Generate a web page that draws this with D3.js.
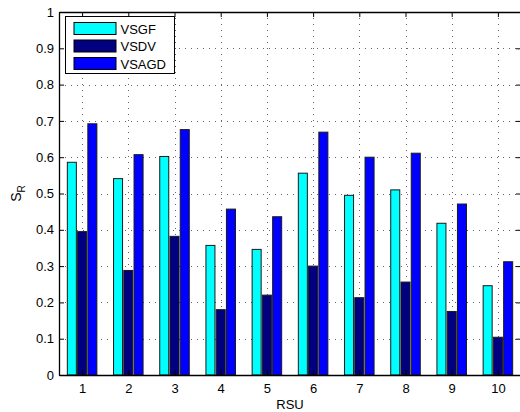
<!DOCTYPE html>
<html><head><meta charset="utf-8">
<script src="https://cdn.jsdelivr.net/npm/d3@7"></script>
<style>
body{margin:0;background:#fff;}
svg{display:block;font-family:"Liberation Sans",Arial,Helvetica,sans-serif;}
</style></head>
<body><div id="chart"></div>
<script>
const categories = ["1","2","3","4","5","6","7","8","9","10"];
const seriesNames = ["VSGF","VSDV","VSAGD"];
const seriesColors = ["#00ffff","#000080","#0000ff"];
const vsgf  = [0.586,0.541,0.602,0.357,0.346,0.556,0.495,0.510,0.418,0.246];
const vsdv  = [0.395,0.288,0.382,0.180,0.220,0.300,0.213,0.256,0.175,0.104];
const vsagd = [0.692,0.607,0.676,0.457,0.436,0.669,0.600,0.611,0.471,0.312];
const yTicks = [0,0.1,0.2,0.3,0.4,0.5,0.6,0.7,0.8,0.9,1];
const seriesValues = [vsgf, vsdv, vsagd];

(function(){
const W = 520, H = 412;
const svg = d3.select("#chart").append("svg").attr("width",W).attr("height",H);
const pL = 59, pR = 521, pT = 12, pB = 375;

const x = d3.scaleLinear().domain([0.5,10.5]).range([pL,pR]);
const y = d3.scaleLinear().domain([0,1]).range([pB,pT]);
const unit = x(1)-x(0);
const sub = d3.scaleBand().domain(seriesNames).range([-0.333,0.333]).paddingInner(0.12).paddingOuter(0.06);

// grid
const g = svg.append("g");
g.selectAll(".hg").data(yTicks.slice(1,-1)).join("line")
  .attr("x1",pL).attr("x2",pR).attr("y1",d=>Math.round(y(d))+0.5).attr("y2",d=>Math.round(y(d))+0.5)
  .attr("stroke","#666").attr("stroke-width",1).attr("stroke-dasharray","1,5");
g.selectAll(".vg").data(categories).join("line")
  .attr("x1",(d,i)=>Math.round(x(i+1))+0.5).attr("x2",(d,i)=>Math.round(x(i+1))+0.5)
  .attr("y1",pT).attr("y2",pB)
  .attr("stroke","#666").attr("stroke-width",1).attr("stroke-dasharray","1,5");

// bars
seriesNames.forEach((s,si)=>{
  svg.append("g").selectAll("rect").data(seriesValues[si]).join("rect")
    .attr("x",(d,i)=>x(i+1+sub(s)))
    .attr("width",sub.bandwidth()*unit)
    .attr("y",d=>y(d))
    .attr("height",d=>y(0)-y(d))
    .attr("fill",seriesColors[si])
    .attr("stroke","#1a1a1a").attr("stroke-width",1);
});

// axes
const yAxisL = d3.axisLeft(y).tickValues(yTicks).tickFormat(d=>d===0?"0":d===1?"1":d3.format(".1f")(d)).tickSizeInner(-5).tickSizeOuter(0).tickPadding(5);
const yAxisR = d3.axisRight(y).tickValues(yTicks).tickSizeInner(-5).tickSizeOuter(0).tickFormat("");
const xAxisB = d3.axisBottom(x).tickValues(d3.range(1,11)).tickFormat((d,i)=>categories[i]).tickSizeInner(-5).tickSizeOuter(0).tickPadding(9);
const xAxisT = d3.axisTop(x).tickValues(d3.range(1,11)).tickSizeInner(-5).tickSizeOuter(0).tickFormat("");

function style(sel){
  sel.selectAll("path").attr("stroke","#000").attr("stroke-width",1.3);
  sel.selectAll("line").attr("stroke","#000").attr("stroke-width",1);
  sel.selectAll("text").attr("font-size","13px").attr("fill","#000").attr("font-family","'Liberation Sans',Arial,sans-serif");
}
svg.append("g").attr("transform",`translate(${pL},0)`).call(yAxisL).call(style);
svg.append("g").attr("transform",`translate(${pR},0)`).call(yAxisR).call(style);
svg.append("g").attr("transform",`translate(0,${pB})`).call(xAxisB).call(style);
svg.append("g").attr("transform",`translate(0,${pT})`).call(xAxisT).call(style);

// axis labels
svg.append("text").attr("x",(pL+pR)/2).attr("y",409).attr("text-anchor","middle")
  .attr("font-size","13px").text("RSU");
const yl = svg.append("text").attr("transform",`translate(21,${(pT+pB)/2}) rotate(-90)`)
  .attr("text-anchor","middle").attr("font-size","14px");
yl.append("tspan").text("S");
yl.append("tspan").attr("font-size","10px").attr("dy",4).text("R");

// legend
const lg = svg.append("g");
lg.append("rect").attr("x",65.5).attr("y",16.5).attr("width",109).attr("height",57)
  .attr("fill","#fff").attr("stroke","#000").attr("stroke-width",1);
seriesNames.forEach((s,i)=>{
  const yy = 22.5 + i*17.5;
  lg.append("rect").attr("x",74).attr("y",yy).attr("width",42).attr("height",12)
    .attr("fill",seriesColors[i]).attr("stroke","#000").attr("stroke-width",1);
  lg.append("text").attr("x",120.5).attr("y",yy+11).attr("font-size","13px").text(s);
});
})();
</script></body></html>
